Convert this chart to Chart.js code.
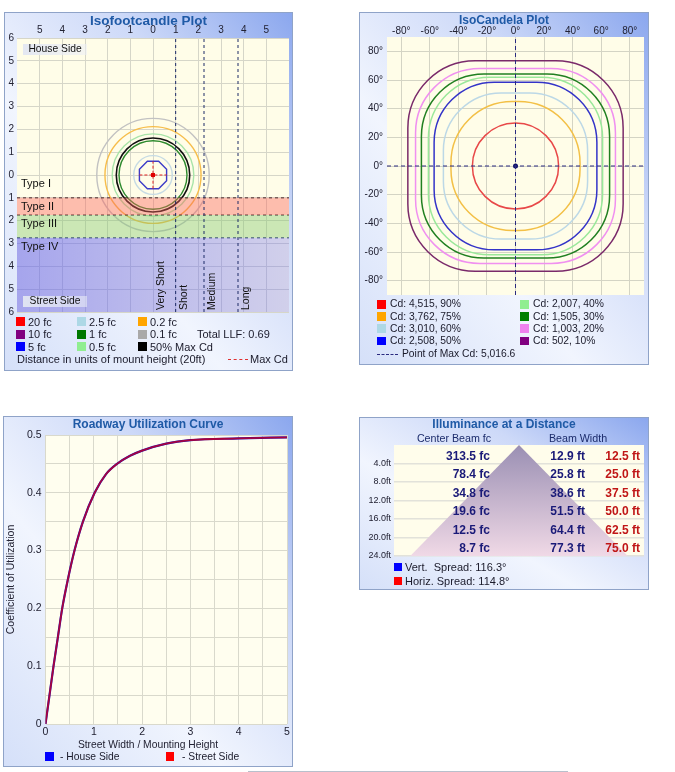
<!DOCTYPE html>
<html>
<head>
<meta charset="utf-8">
<title>Photometric report</title>
<script src="https://cdn.jsdelivr.net/npm/chart.js@4.4.1/dist/chart.umd.min.js"></script>
<style>
  body { margin: 0; width: 675px; height: 772px; background: #fff; position: relative; overflow: hidden;
         font-family: "Liberation Sans", Arial, sans-serif; color: #1a1a2a; }
  .panel { position: absolute; box-sizing: border-box; border: 1px solid #8fa3c8;
           background: linear-gradient(to bottom left, #8ba7ee 0%, #cdd9f8 30%, #f1f5fe 62%, #d5e0f9 100%); }
  .panel canvas { position: absolute; left: 0; top: 0; }
  .title { position: absolute; left: 0; right: 0; top: 0; text-align: center; font-weight: bold;
           color: #1f5aa6; white-space: nowrap; }
  .lg { position: absolute; white-space: nowrap; }
  .sw { position: absolute; }
</style>
</head>
<body>

<div class="panel" id="p1" style="left:4px;top:12px;width:289px;height:359px">
  <canvas id="isoFc" width="287" height="357"></canvas>
  <div class="title" style="font-size:13.5px;line-height:15px">Isofootcandle Plot</div>
</div>

<div class="panel" id="p2" style="left:359px;top:12px;width:290px;height:353px">
  <canvas id="isoCd" width="288" height="351"></canvas>
  <div class="title" style="font-size:12px;line-height:14px">IsoCandela Plot</div>
</div>

<div class="panel" id="p3" style="left:3px;top:416px;width:290px;height:351px">
  <canvas id="cuCurve" width="288" height="349"></canvas>
  <div class="title" style="font-size:12px;line-height:15px">Roadway Utilization Curve</div>
  <div class="lg" style="left:0;right:0;top:322px;text-align:center;font-size:10.3px;line-height:12px;color:#223">Street Width / Mounting Height</div>
</div>

<div class="panel" id="p4" style="left:359px;top:417px;width:290px;height:173px">
  <canvas id="illum" width="288" height="171"></canvas>
  <div class="title" style="font-size:12px;line-height:13px">Illuminance at a Distance</div>
  <div class="lg" style="left:34px;width:120px;top:14px;text-align:center;font-size:10.7px;line-height:12px;color:#1c2c6c">Center Beam fc</div>
  <div class="lg" style="left:168px;width:100px;top:14px;text-align:center;font-size:10.7px;line-height:12px;color:#1c2c6c">Beam Width</div>
</div>

<div style="position:absolute;left:248px;top:771px;width:320px;height:1px;background:#b8c0cc"></div>

<script>
// ---------- Isofootcandle plot ----------
const fcLabels = ['20 fc', '10 fc', '5 fc', '2.5 fc', '1 fc', '0.5 fc', '0.2 fc', '0.1 fc', '50% Max Cd'];
const fcRadius = [null, null, 0.6, 0.85, 1.5, 1.8, 2.12, 2.48, 1.62];   // mount heights, null = too small to see
const fcTicksX = [-5, -4, -3, -2, -1, 0, 1, 2, 3, 4, 5];
const fcTicksY = [-6, -5, -4, -3, -2, -1, 0, 1, 2, 3, 4, 5, 6];
const typeLabels = ['Type I', 'Type II', 'Type III', 'Type IV'];
const typeTop = [0, -1, -1.75, -2.75];
const typeBottom = [-1, -1.75, -2.75, -6];
const lengthLabels = ['Very Short', 'Short', 'Medium', 'Long'];
const lengthStart = [0, 1, 2.25, 3.75];
const maxCdArm = 0.6;
const totalLLF = 0.69;
const mountHeightFt = 20;

// ---------- IsoCandela plot ----------
const cdValues = [4515, 3762, 3010, 2508, 2007, 1505, 1003, 502];
const cdPercent = [90, 75, 60, 50, 40, 30, 20, 10];
const cdHalfX = [30.2, 45.2, 50.5, 57, 61, 65.9, 70, 75.4];    // degrees
const cdHalfY = [30, 45, 51, 58.5, 62, 64.2, 68, 73.4];
const angleTicks = [-80, -60, -40, -20, 0, 20, 40, 60, 80];
const maxCd = 5016.6;

// ---------- Roadway utilization ----------
const cuRatio = [0, 0.083, 0.166, 0.256, 0.346, 0.463, 0.6, 0.775, 1.017, 1.25, 1.48, 1.75, 2.0, 2.5, 3.0, 4.0, 5.0];
const cuHouse = [0, 0.05, 0.10, 0.15, 0.20, 0.25, 0.30, 0.35, 0.40, 0.432, 0.45, 0.464, 0.473, 0.485, 0.491, 0.494, 0.496];
const cuStreet = [0, 0.05, 0.10, 0.15, 0.20, 0.25, 0.30, 0.35, 0.40, 0.432, 0.45, 0.464, 0.473, 0.485, 0.491, 0.494, 0.496];
const cuTicksX = [0, 0.5, 1, 1.5, 2, 2.5, 3, 3.5, 4, 4.5, 5];
const cuTicksY = [0, 0.05, 0.1, 0.15, 0.2, 0.25, 0.3, 0.35, 0.4, 0.45, 0.5];

// ---------- Illuminance at a distance ----------
const distFt = [4, 8, 12, 16, 20, 24];
const centerFc = [313.5, 78.4, 34.8, 19.6, 12.5, 8.7];
const vertWidthFt = [12.9, 25.8, 38.6, 51.5, 64.4, 77.3];
const horizWidthFt = [12.5, 25.0, 37.5, 50.0, 62.5, 75.0];
const coneX = [-0.87, 0, 0.87];
const coneY = [24, 0, 24];
const vertSpread = 116.3;
const horizSpread = 114.8;

// colours
const fcSwatch = ['#ff0000', '#800080', '#0000ff', '#add8e6', '#007800', '#90ee90', '#ffa500', '#a9a9a9', '#000000'];
const fcLine = ['#ff0000', '#800080', '#3c3cc8', '#c6dbe4', '#2e8a2e', '#a8e4a8', '#f7bd4a', '#c2c2c2', '#101010'];
const cdSwatch = ['#ff0000', '#ffa500', '#add8e6', '#0000ff', '#90ee90', '#008000', '#ee82ee', '#800080'];
const cdLine = ['#e84848', '#f3c046', '#bcd8e6', '#3434c8', '#9ae89a', '#218021', '#f090f0', '#7a2a6a'];
const cdCorner = [1, 0.95, 0.8, 0.74, 0.7, 0.68, 0.66, 0.64];

Chart.defaults.font.family = '"Liberation Sans", Arial, sans-serif';
Chart.defaults.color = '#222';
Chart.defaults.animation = false;
Chart.defaults.events = [];
Chart.defaults.plugins.legend.display = false;
Chart.defaults.plugins.tooltip.enabled = false;
Chart.defaults.elements.point.radius = 0;
Chart.defaults.elements.point.hoverRadius = 0;
Chart.defaults.elements.point.borderWidth = 0;

const plotBg = {
  id: 'plotBg',
  beforeDraw(chart, args, opts) {
    const {ctx, chartArea: a} = chart;
    ctx.save();
    ctx.fillStyle = opts.color;
    ctx.fillRect(a.left, a.top, a.width, a.height);
    ctx.restore();
  }
};

// contour rings drawn through the chart's scales
function contourPlugin(items) {
  return {
    id: 'contours',
    beforeDatasetsDraw(chart) {
      const {ctx, scales: {x, y}} = chart;
      ctx.save();
      items.forEach(it => {
        const cx = x.getPixelForValue(0), cy = y.getPixelForValue(0);
        const rx = Math.abs(x.getPixelForValue(it.rx) - cx);
        const ry = Math.abs(y.getPixelForValue(it.ry) - cy);
        ctx.beginPath();
        if (it.sides) {
          for (let k = 0; k < it.sides; k++) {
            const t = Math.PI / it.sides + k * 2 * Math.PI / it.sides;
            const f = 1 / Math.cos(Math.PI / it.sides);
            const px = cx + Math.cos(t) * rx * f, py = cy + Math.sin(t) * ry * f;
            k ? ctx.lineTo(px, py) : ctx.moveTo(px, py);
          }
          ctx.closePath();
        } else if (it.corner >= 1) {
          ctx.ellipse(cx, cy, rx, ry, 0, 0, 2 * Math.PI);
        } else {
          ctx.roundRect(cx - rx, cy - ry, 2 * rx, 2 * ry, it.corner * Math.min(rx, ry));
        }
        ctx.strokeStyle = it.color;
        ctx.lineWidth = it.width || 1.5;
        ctx.stroke();
      });
      ctx.restore();
    }
  };
}

function seg(x1, y1, x2, y2) { return [{x: x1, y: y1}, {x: x2, y: y2}]; }

function fixedTicks(list) { return s => { s.ticks = list.map(v => ({value: v})); }; }

// ---------- chart 1 ----------
const bandFill = [
  'rgba(250,100,90,0.42)',
  'rgba(130,200,110,0.42)',
  c => {
    const a = c.chart.chartArea;
    if (!a) return 'rgba(100,100,240,0.5)';
    const g = c.chart.ctx.createLinearGradient(a.left, 0, a.right, 0);
    g.addColorStop(0, 'rgba(95,95,240,0.56)');
    g.addColorStop(1, 'rgba(120,120,240,0.34)');
    return g;
  }
];
const bandEdge = ['#4a2a2a', '#2a2a2a', '#1e2a70'];

const fcDatasets = [];
for (let i = 1; i < typeLabels.length; i++) {
  fcDatasets.push({
    label: typeLabels[i], data: seg(-6, typeTop[i], 6, typeTop[i]),
    borderColor: bandEdge[i - 1], borderWidth: 1, borderDash: [3, 3],
    backgroundColor: bandFill[i - 1], fill: {value: typeBottom[i]}, order: 10
  });
}
for (let i = 1; i < lengthStart.length; i++) {
  fcDatasets.push({
    label: lengthLabels[i], data: seg(lengthStart[i], -6, lengthStart[i], 6),
    borderColor: '#1c2a66', borderWidth: 1, borderDash: [3, 3], order: 5
  });
}
fcDatasets.push(
  {label: 'Max Cd', data: seg(-maxCdArm, 0, maxCdArm, 0), borderColor: '#e02020', borderWidth: 1, borderDash: [3, 2], order: 2},
  {label: 'Max Cd v', data: seg(0, -maxCdArm, 0, maxCdArm), borderColor: '#e02020', borderWidth: 1, borderDash: [3, 2], order: 2},
  {label: 'Max point', data: [{x: 0, y: 0}], showLine: false, pointStyle: 'rect', pointRadius: 2.8,
   pointHoverRadius: 2.8, pointBackgroundColor: '#e00000', order: 1}
);

const fcRings = [];
fcRadius.forEach((r, i) => {
  if (r == null) return;
  fcRings.push({rx: r, ry: r, corner: 1, sides: i === 2 ? 8 : 0, color: fcLine[i], width: i === 8 ? 1.6 : 1.4});
});

const isoLabels = {
  id: 'isoLabels',
  afterDatasetsDraw(chart) {
    const {ctx, chartArea: a, scales: {x, y}} = chart;
    ctx.save();
    ctx.font = '10.3px "Liberation Sans"';
    ctx.textBaseline = 'middle';
    [['House Side', a.top + 6], ['Street Side', a.bottom - 16]].forEach(([t, top]) => {
      const g = ctx.createLinearGradient(a.left + 6, 0, a.left + 70, 0);
      g.addColorStop(0, 'rgba(226,230,242,0.95)');
      g.addColorStop(1, 'rgba(236,239,247,0.55)');
      ctx.fillStyle = g;
      ctx.fillRect(a.left + 6, top, 64, 11);
      ctx.fillStyle = '#111';
      ctx.textAlign = 'center';
      ctx.fillText(t, a.left + 38, top + 5.5);
    });
    ctx.font = '11px "Liberation Sans"';
    ctx.textAlign = 'left';
    typeLabels.forEach((t, i) => ctx.fillText(t, a.left + 4, y.getPixelForValue(typeTop[i]) + 9));
    ctx.font = '10.5px "Liberation Sans"';
    lengthLabels.forEach((t, i) => {
      ctx.save();
      ctx.translate(x.getPixelForValue(lengthStart[i]) + 8, a.bottom - 2);
      ctx.rotate(-Math.PI / 2);
      ctx.fillText(t, 0, 0);
      ctx.restore();
    });
    ctx.restore();
  }
};

new Chart(document.getElementById('isoFc'), {
  type: 'line',
  data: {datasets: fcDatasets},
  options: {
    responsive: false,
    layout: {padding: {top: 12, right: 3, bottom: 58, left: 0}},
    scales: {
      x: {
        type: 'linear', position: 'top', min: -6, max: 6,
        afterBuildTicks: fixedTicks(fcTicksX), afterFit: s => { s.height = 13; },
        ticks: {font: {size: 10}, padding: 2, color: '#223', callback: v => Math.abs(v)},
        grid: {color: '#d6d6c8', drawTicks: false}, border: {display: false}
      },
      y: {
        type: 'linear', min: -6, max: 6,
        afterBuildTicks: fixedTicks(fcTicksY), afterFit: s => { s.width = 12; },
        ticks: {font: {size: 10}, padding: 3, color: '#223', callback: v => Math.abs(v)},
        grid: {color: '#d6d6c8', drawTicks: false}, border: {display: false}
      }
    },
    plugins: {plotBg: {color: '#fffde8'}}
  },
  plugins: [plotBg, contourPlugin(fcRings), isoLabels]
});

// ---------- chart 2 ----------
const cdRings = cdValues.map((v, i) => ({rx: cdHalfX[i], ry: cdHalfY[i], corner: cdCorner[i], color: cdLine[i], width: 1.5}));

new Chart(document.getElementById('isoCd'), {
  type: 'line',
  data: {
    datasets: [
      {label: 'h', data: seg(-90, 0, 90, 0), borderColor: '#2a2a80', borderWidth: 1, borderDash: [4, 3]},
      {label: 'v', data: seg(0, -90, 0, 90), borderColor: '#2a2a80', borderWidth: 1, borderDash: [4, 3]},
      {label: 'Point of Max Cd', data: [{x: 0, y: 0}], showLine: false, pointRadius: 2.5, pointHoverRadius: 2.5,
       pointBackgroundColor: '#10106a'}
    ]
  },
  options: {
    responsive: false,
    layout: {padding: {top: 11, right: 4, bottom: 69, left: 0}},
    scales: {
      x: {
        type: 'linear', position: 'top', min: -90, max: 90,
        afterBuildTicks: fixedTicks(angleTicks), afterFit: s => { s.height = 13; },
        ticks: {font: {size: 10}, padding: 0, color: '#223', callback: v => v + '°'},
        grid: {color: '#d4d4c4', drawTicks: false}, border: {display: false}
      },
      y: {
        type: 'linear', min: -90, max: 90,
        afterBuildTicks: fixedTicks(angleTicks), afterFit: s => { s.width = 27; },
        ticks: {font: {size: 10}, padding: 4, color: '#223', callback: v => v + '°'},
        grid: {color: '#d4d4c4', drawTicks: false}, border: {display: false}
      }
    },
    plugins: {plotBg: {color: '#fffde8'}}
  },
  plugins: [plotBg, contourPlugin(cdRings)]
});

// ---------- chart 3 ----------
const tenth = v => Math.abs(v * 10 - Math.round(v * 10)) < 1e-6;
new Chart(document.getElementById('cuCurve'), {
  type: 'line',
  data: {
    datasets: [
      {label: 'House Side', data: cuRatio.map((r, i) => ({x: r, y: cuHouse[i]})), order: 2,
       borderColor: '#1010c0', borderWidth: 2.2, cubicInterpolationMode: 'monotone'},
      {label: 'Street Side', data: cuRatio.map((r, i) => ({x: r, y: cuStreet[i]})), order: 1,
       borderColor: 'rgba(205,0,30,0.8)', borderWidth: 1.8, cubicInterpolationMode: 'monotone'}
    ]
  },
  options: {
    responsive: false,
    layout: {padding: {top: 18, right: 5, bottom: 14, left: 0}},
    scales: {
      x: {
        type: 'linear', min: 0, max: 5,
        afterBuildTicks: fixedTicks(cuTicksX), afterFit: s => { s.height = 28; },
        ticks: {font: {size: 10.5}, padding: 2, color: '#223', autoSkip: false, maxRotation: 0,
                callback: v => Number.isInteger(v) ? String(v) : ''},
        grid: {color: '#d9d9cc', drawTicks: false}, border: {display: false}
      },
      y: {
        type: 'linear', min: 0, max: 0.5,
        afterBuildTicks: fixedTicks(cuTicksY), afterFit: s => { s.width = 41.5; },
        ticks: {font: {size: 10.5}, padding: 4, color: '#223', autoSkip: false,
                callback: v => tenth(v) ? String(+v.toFixed(1)) : ''},
        title: {display: true, text: 'Coefficient of Utilization', font: {size: 10.5}, color: '#223', padding: {top: 1, bottom: 0}},
        grid: {color: '#d9d9cc', drawTicks: false}, border: {display: false}
      }
    },
    plugins: {plotBg: {color: '#fffeef'}}
  },
  plugins: [plotBg]
});

// ---------- chart 4 ----------
const tableText = {
  id: 'tableText',
  afterDraw(chart) {
    const {ctx, chartArea: a, scales: {y}} = chart;
    ctx.save();
    ctx.font = 'bold 12px "Liberation Sans"';
    ctx.textAlign = 'right';
    ctx.textBaseline = 'middle';
    distFt.forEach((d, i) => {
      const py = y.getPixelForValue(d - 2) + 2;
      ctx.fillStyle = '#1a1a78';
      ctx.fillText(centerFc[i].toFixed(1) + ' fc', a.left + 96, py);
      ctx.fillText(vertWidthFt[i].toFixed(1) + ' ft', a.left + 191, py);
      ctx.fillStyle = '#c01616';
      ctx.fillText(horizWidthFt[i].toFixed(1) + ' ft', a.left + 246, py);
    });
    ctx.restore();
  }
};

new Chart(document.getElementById('illum'), {
  type: 'line',
  data: {
    datasets: [{
      label: 'beam', data: coneX.map((x, i) => ({x, y: coneY[i]})), borderWidth: 0, borderColor: 'rgba(0,0,0,0)',
      fill: {value: 24},
      backgroundColor: c => {
        const a = c.chart.chartArea;
        if (!a) return '#c0b0cc';
        const g = c.chart.ctx.createLinearGradient(0, a.top, 0, a.bottom);
        g.addColorStop(0, '#9a8fb3');
        g.addColorStop(1, '#f0d9e6');
        return g;
      }
    }]
  },
  options: {
    responsive: false,
    layout: {padding: {top: 27, right: 4, bottom: 33, left: 0}},
    scales: {
      x: {type: 'linear', min: -1, max: 1, display: false},
      y: {
        type: 'linear', min: 0, max: 24, reverse: true, z: 1,
        afterBuildTicks: fixedTicks(distFt), afterFit: s => { s.width = 34; },
        ticks: {font: {size: 9}, padding: 3, color: '#223', callback: v => v.toFixed(1) + 'ft'},
        grid: {color: '#e2e2da', lineWidth: 1.5, drawTicks: false}, border: {display: false}
      }
    },
    plugins: {plotBg: {color: '#fffdeb'}}
  },
  plugins: [plotBg, tableText]
});

// ---------- legends ----------
function swatch(panel, left, cy, size, color) {
  const d = document.createElement('div');
  d.className = 'sw';
  d.style.cssText = `left:${left}px;top:${cy - size / 2}px;width:${size}px;height:${size}px;background:${color}`;
  panel.appendChild(d);
}
function text(panel, left, cy, str, size, color) {
  const d = document.createElement('div');
  d.className = 'lg';
  d.style.cssText = `left:${left}px;top:${cy - 7}px;line-height:14px;font-size:${size}px;color:${color || '#1a1a2a'}`;
  d.textContent = str;
  panel.appendChild(d);
}
function dash(panel, left, cy, width, color) {
  const d = document.createElement('div');
  d.className = 'sw';
  d.style.cssText = `left:${left}px;top:${cy}px;width:${width}px;height:0;border-top:1px dashed ${color}`;
  panel.appendChild(d);
}

const p1 = document.getElementById('p1');
fcLabels.forEach((t, i) => {
  const c = Math.floor(i / 3), r = i % 3, cy = 308.7 + r * 12.6, x = 11 + c * 61;
  swatch(p1, x, cy, 9, fcSwatch[i]);
  text(p1, x + 12, cy, t, 11);
});
text(p1, 192, 321.3, 'Total LLF: ' + totalLLF.toFixed(2), 11);
text(p1, 12, 346.3, `Distance in units of mount height (${mountHeightFt}ft)`, 11);
dash(p1, 223, 346.3, 20, '#e03030');
text(p1, 245, 346.3, 'Max Cd', 11);

const p2 = document.getElementById('p2');
cdValues.forEach((v, i) => {
  const c = Math.floor(i / 4), r = i % 4, cy = 291.3 + r * 12.2, x = 17 + c * 143;
  swatch(p2, x, cy, 8.5, cdSwatch[i]);
  text(p2, x + 13, cy, `Cd: ${v.toLocaleString('en-US')}, ${cdPercent[i]}%`, 10.3);
});
dash(p2, 17, 341, 21, '#2a2a80');
text(p2, 42, 341.3, 'Point of Max Cd: ' + maxCd.toLocaleString('en-US', {minimumFractionDigits: 1}), 10.3);

const p3 = document.getElementById('p3');
swatch(p3, 41, 339.7, 8.5, '#0000ff');
text(p3, 56, 339.7, '- House Side', 10.3);
swatch(p3, 161.7, 339.7, 8.5, '#ff0000');
text(p3, 178, 339.7, '- Street Side', 10.3);

const p4 = document.getElementById('p4');
swatch(p4, 34, 148.7, 7.7, '#0000ff');
text(p4, 45, 148.7, `Vert.\u00a0 Spread: ${vertSpread.toFixed(1)}°`, 11);
swatch(p4, 34, 163, 7.7, '#ff0000');
text(p4, 45, 163, `Horiz. Spread: ${horizSpread.toFixed(1)}°`, 11);
</script>
</body>
</html>
